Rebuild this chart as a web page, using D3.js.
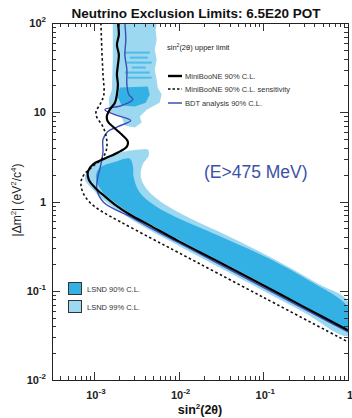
<!DOCTYPE html>
<html>
<head>
<meta charset="utf-8">
<script src="https://cdn.jsdelivr.net/npm/d3@7"></script>
<style>
  body { margin: 0; background: #fff; }
  text { font-family: "Liberation Sans", Arial, sans-serif; }
</style>
</head>
<body>
<svg id="chart" width="352" height="418"></svg>
<script>
// values: [sin^2(2theta), dm^2]
const mbSolid = [[1.92e-3,100],[1.97e-3,74],[1.87e-3,57],[1.97e-3,44],[1.92e-3,34],[1.87e-3,26.4],
  [1.92e-3,20.4],[1.87e-3,15.8],[1.77e-3,12.8],[1.54e-3,10.7],[1.42e-3,8.95],[1.46e-3,7.87],
  [1.72e-3,6.74],[2.13e-3,5.62],[2.51e-3,4.7],[2.45e-3,4.13],[1.92e-3,3.54],[1.35e-3,3.03],
  [9.7e-4,2.6],[8.5e-4,2.17],[8.7e-4,1.76],[1.03e-3,1.43],[1.35e-3,1.14],[1.77e-3,0.925],
  [2.65e-3,0.715],[4.56e-3,0.54],[1e-2,0.36],[3e-2,0.21],[0.1,0.115],[0.3,0.066],[1,0.036]];

const mbSens = [[1.21e-3,100],[1.24e-3,50],[1.28e-3,26.4],[1.31e-3,15.8],[1.18e-3,12.2],
  [1.06e-3,10.2],[1.085e-3,8.73],[1.24e-3,7.28],[1.38e-3,5.62],[1.42e-3,4.02],[1.28e-3,3.11],
  [9.7e-4,2.47],[7.63e-4,2.0],[7.03e-4,1.63],[7.42e-4,1.26],[8.97e-4,0.975],[1.24e-3,0.773],
  [2.02e-3,0.597],[4.56e-3,0.395],[1e-2,0.267],[0.1,0.0844],[1,0.0267]];

const bdt = [[2.32e-3,100],[2.38e-3,65],[2.32e-3,44],[2.45e-3,30],[2.45e-3,20.4],[2.58e-3,15.8],
  [2.88e-3,13.9],[2.13e-3,11.9],[1.35e-3,10.7],[1.77e-3,9.4],[2.72e-3,8.07],[1.92e-3,6.92],
  [1.46e-3,6.08],[1.28e-3,4.95],[1.28e-3,3.63],[1.21e-3,2.6],[1.11e-3,1.86],[1.085e-3,1.36],
  [1.31e-3,0.975],[2.65e-3,0.68],[4.56e-3,0.51],[1e-2,0.345],[0.1,0.109],[1,0.0345]];

const lsnd99Main = [[9.47e-4,2.53],[1.18e-3,2.95],[1.54e-3,3.27],[2.32e-3,3.63],[3.48e-3,3.82],
  [4.32e-3,3.82],[4.44e-3,3.27],[3.77e-3,2.6],[3.57e-3,1.9],[4.09e-3,1.43],[5.51e-3,1.08],
  [8.27e-3,0.835],[1.46e-2,0.63],[2.8e-2,0.473],[6.85e-2,0.313],[0.167,0.202],[0.456,0.118],
  [1,0.076],[1,0.0315],[0.3,0.0575],[0.1,0.1],[0.03,0.183],[0.01,0.32],[4.56e-3,0.475],
  [2.65e-3,0.645],[1.77e-3,0.835],[1.28e-3,1.05],[9.7e-4,1.36],[7.83e-4,1.76],[8.28e-4,2.17]];

const lsnd90Main = [[1.67e-3,2.73],[2.65e-3,3.03],[2.88e-3,2.53],[2.95e-3,1.86],[3.48e-3,1.26],
  [5.22e-3,0.9],[8.97e-3,0.68],[1.77e-2,0.51],[3.98e-2,0.366],[0.117,0.23],[0.347,0.13],
  [1,0.065],[1,0.038],[0.1,0.12],[0.01,0.375],[4.56e-3,0.56],[2.65e-3,0.75],[1.77e-3,0.975],
  [1.28e-3,1.26],[1.085e-3,1.63],[1.06e-3,2.0],[1.18e-3,2.4]];

const lsnd99Top = [[1.67e-3,100],[1.67e-3,39],[1.63e-3,18],[1.5e-3,13.9],[1.54e-3,10.2],
  [2.13e-3,8.73],[2.32e-3,7.1],[3.04e-3,6.74],[3.67e-3,7.67],[3.48e-3,8.95],[4.2e-3,10.7],
  [5.97e-3,12.8],[6.3e-3,15.8],[5.66e-3,18.9],[5.51e-3,23],[5.22e-3,30],[5.51e-3,39],
  [5.22e-3,50],[5.51e-3,65],[5.36e-3,84],[5.51e-3,100]];

const lsnd90Top = [[2.02e-3,18.9],[4.32e-3,19.4],[4.56e-3,15.8],[4.09e-3,12.8],[3.04e-3,11.6],
  [2.13e-3,11.9],[1.92e-3,14.6]];

// thin dark stripes in the upper band: [sin lo, sin hi, dm lo, dm hi]
const lsnd90Stripes = [[2.32e-3,4.56e-3,45.4,47.8],[2.65e-3,4.32e-3,39.9,42.0],[2.45e-3,4.81e-3,35.1,36.9],
  [2.8e-3,4.09e-3,30.9,32.5],[2.32e-3,4.56e-3,27.1,28.6],[2.51e-3,4.81e-3,23.8,25.0]];

const xMajor = [1e-3, 1e-2, 1e-1, 1];
const xLabels = [["10","-3"],["10","-2"],["10","-1"],["1",""]];
const yMajor = [1e-2, 1e-1, 1, 10, 100];
const yLabels = [["10","-2"],["10","-1"],["1",""],["10",""],["10","2"]];

const legendLines = ["MiniBooNE 90% C.L.", "MiniBooNE 90% C.L. sensitivity", "BDT analysis 90% C.L."];
const legendBoxes = ["LSND 90% C.L.", "LSND 99% C.L."];

const dark = "#34b1e4", light = "#9dd8f1", blueLine = "#3a4fb3";

const svg = d3.select("#chart");
const pLeft = 52, pRight = 348, pTop = 23, pBottom = 380;

const x = d3.scaleLog().domain([3.2e-4, 1]).range([pLeft, pRight]);
const y = d3.scaleLog().domain([1e-2, 100]).range([pBottom, pTop]);

svg.append("defs").append("clipPath").attr("id", "plot")
  .append("rect").attr("x", pLeft).attr("y", pTop)
  .attr("width", pRight - pLeft).attr("height", pBottom - pTop);

const g = svg.append("g").attr("clip-path", "url(#plot)");

const area = d3.line().x(d => x(d[0])).y(d => y(d[1]));
const smooth = d3.line().x(d => x(d[0])).y(d => y(d[1])).curve(d3.curveCatmullRom);
const smoothClosed = d3.line().x(d => x(d[0])).y(d => y(d[1])).curve(d3.curveCatmullRomClosed);

// LSND regions
g.append("path").attr("d", area(lsnd99Top) + "Z").attr("fill", light);
g.append("path").attr("d", smoothClosed(lsnd99Main)).attr("fill", light);
g.append("path").attr("d", area(lsnd90Top) + "Z").attr("fill", dark);
g.selectAll("rect.stripe").data(lsnd90Stripes).join("rect")
  .attr("class", "stripe")
  .attr("x", d => x(d[0])).attr("width", d => x(d[1]) - x(d[0]))
  .attr("y", d => y(d[3])).attr("height", d => y(d[2]) - y(d[3]))
  .attr("fill", dark).attr("opacity", 0.75);
g.append("path").attr("d", smoothClosed(lsnd90Main)).attr("fill", dark);

// limit curves
g.append("path").attr("d", smooth(bdt)).attr("fill", "none")
  .attr("stroke", blueLine).attr("stroke-width", 1.4);
g.append("path").attr("d", smooth(mbSens)).attr("fill", "none")
  .attr("stroke", "#111").attr("stroke-width", 1.6).attr("stroke-dasharray", "2.5,2.5");
g.append("path").attr("d", smooth(mbSolid)).attr("fill", "none")
  .attr("stroke", "#000").attr("stroke-width", 2.2);

// axes with inward ticks on all four sides
const minorX = x.ticks().filter(v => !xMajor.some(m => Math.abs(v / m - 1) < 1e-6) && v > 3.2e-4);
const minorY = y.ticks().filter(v => !yMajor.some(m => Math.abs(v / m - 1) < 1e-6));

function ticks(axis, vals, size, tr) {
  const a = svg.append("g").attr("transform", tr)
    .call(axis.tickValues(vals).tickSize(size).tickFormat(""));
  a.select(".domain").remove();
  a.selectAll("line").attr("stroke", "#333").attr("shape-rendering", "crispEdges");
}
ticks(d3.axisBottom(x), xMajor, -8, `translate(0,${pBottom})`);
ticks(d3.axisBottom(x), minorX, -4, `translate(0,${pBottom})`);
ticks(d3.axisTop(x), xMajor, -8, `translate(0,${pTop})`);
ticks(d3.axisTop(x), minorX, -4, `translate(0,${pTop})`);
ticks(d3.axisLeft(y), yMajor, -8, `translate(${pLeft},0)`);
ticks(d3.axisLeft(y), minorY, -4, `translate(${pLeft},0)`);
ticks(d3.axisRight(y), yMajor, -8, `translate(${pRight},0)`);
ticks(d3.axisRight(y), minorY, -4, `translate(${pRight},0)`);

svg.append("rect").attr("x", pLeft).attr("y", pTop)
  .attr("width", pRight - pLeft).attr("height", pBottom - pTop)
  .attr("fill", "none").attr("stroke", "#222").attr("stroke-width", 1)
  .attr("shape-rendering", "crispEdges");

// tick labels
function powLabel(sel, base, exp) {
  sel.append("tspan").text(base);
  if (exp) sel.append("tspan").attr("font-size", 8).attr("dy", -5).text(exp);
}
xMajor.forEach((v, i) => {
  const t = svg.append("text").attr("x", x(v) + 2).attr("y", 399)
    .attr("text-anchor", "middle").attr("font-size", 11).attr("font-weight", "bold").attr("fill", "#222");
  powLabel(t, xLabels[i][0], xLabels[i][1]);
});
yMajor.forEach((v, i) => {
  const t = svg.append("text").attr("x", 46).attr("y", y(v) + 4)
    .attr("text-anchor", "end").attr("font-size", 11).attr("font-weight", "bold").attr("fill", "#222");
  powLabel(t, yLabels[i][0], yLabels[i][1]);
});

// title and axis titles
svg.append("text").attr("x", 196).attr("y", 18).attr("text-anchor", "middle")
  .attr("font-size", 13.5).attr("font-weight", "bold").attr("fill", "#111")
  .text("Neutrino Exclusion Limits: 6.5E20 POT");

const xt = svg.append("text").attr("x", 200).attr("y", 414).attr("text-anchor", "middle")
  .attr("font-size", 12.5).attr("font-weight", "bold").attr("fill", "#111");
xt.append("tspan").text("sin");
xt.append("tspan").attr("font-size", 8).attr("dy", -5).text("2");
xt.append("tspan").attr("dy", 5).text("(2θ)");

const yt = svg.append("text").attr("transform", "translate(21,200) rotate(-90)")
  .attr("text-anchor", "middle").attr("font-size", 12).attr("fill", "#222");
yt.append("tspan").text("|Δm");
yt.append("tspan").attr("font-size", 8).attr("dy", -5).text("2");
yt.append("tspan").attr("dy", 5).text("|  (eV");
yt.append("tspan").attr("font-size", 8).attr("dy", -5).text("2");
yt.append("tspan").attr("dy", 5).text("/c");
yt.append("tspan").attr("font-size", 8).attr("dy", -5).text("4");
yt.append("tspan").attr("dy", 5).text(")");

// legend for the curves
const lt = svg.append("text").attr("x", 167).attr("y", 50).attr("font-size", 7.5).attr("fill", "#222");
lt.append("tspan").text("sin");
lt.append("tspan").attr("font-size", 5).attr("dy", -3).text("2");
lt.append("tspan").attr("dy", 3).text("(2θ) upper limit");

const legStyles = [
  { stroke: "#000", width: 2.4, dash: null },
  { stroke: "#111", width: 1.6, dash: "2.5,2" },
  { stroke: blueLine, width: 1.5, dash: null }
];
const legY = [76, 89, 103];
legendLines.forEach((name, i) => {
  svg.append("line").attr("x1", 168).attr("x2", 182).attr("y1", legY[i]).attr("y2", legY[i])
    .attr("stroke", legStyles[i].stroke).attr("stroke-width", legStyles[i].width)
    .attr("stroke-dasharray", legStyles[i].dash);
  svg.append("text").attr("x", 185).attr("y", legY[i] + 3).attr("font-size", 7.5).attr("fill", "#333")
    .text(name);
});

// legend for LSND regions
legendBoxes.forEach((name, i) => {
  const yy = 282 + i * 18;
  svg.append("rect").attr("x", 68.5).attr("y", yy + 0.5).attr("width", 13).attr("height", 12)
    .attr("fill", i === 0 ? dark : light).attr("stroke", "#333").attr("stroke-width", 1);
  svg.append("text").attr("x", 87).attr("y", yy + 9.5).attr("font-size", 7.5).attr("fill", "#333")
    .text(name);
});

svg.append("text").attr("x", 204).attr("y", 178).attr("font-size", 17.5).attr("fill", "#3b52a8")
  .text("(E>475 MeV)");
</script>
</body>
</html>
